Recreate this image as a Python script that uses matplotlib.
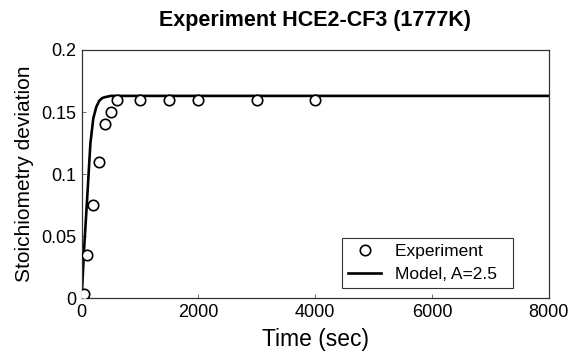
import numpy as np
import matplotlib.pyplot as plt
from matplotlib.ticker import FormatStrFormatter

plt.rcParams['font.family'] = ['Liberation Sans', 'DejaVu Sans']

# experiment points
exp_time = [40, 100, 200, 300, 400, 500, 600, 1000, 1500, 2000, 3000, 4000]
exp_dev = [0.003, 0.035, 0.075, 0.110, 0.140, 0.150, 0.160, 0.160, 0.160, 0.160, 0.160, 0.160]

# model curve, A=2.5
mod_time = [0, 40, 100, 150, 200, 250, 300, 350, 400, 500, 8000]
mod_dev = [0.0, 0.038, 0.085, 0.125, 0.145, 0.154, 0.159, 0.1612, 0.162, 0.163, 0.163]

xticks = [0, 2000, 4000, 6000, 8000]
yticks = [0, 0.05, 0.1, 0.15, 0.2]

fig = plt.figure(figsize=(5.71, 3.52), dpi=100)
ax = fig.add_axes([0.143, 0.153, 0.818, 0.705])

ax.plot(exp_time, exp_dev, 'o', mfc='white', mec='black', mew=1.2, ms=7.5,
        linestyle='None', label='Experiment  ', zorder=3)
ax.plot(mod_time, mod_dev, '-', color='black', lw=1.9, label='Model, A=2.5  ', zorder=2)

ax.set_xlim(0, 8000)
ax.set_ylim(0, 0.2)
ax.set_xticks(xticks)
ax.set_yticks(yticks)
ax.yaxis.set_major_formatter(FormatStrFormatter('%g'))
ax.tick_params(direction='in', length=3, width=0.6, color='#555555',
               labelsize=13, pad=4)

for sp in ax.spines.values():
    sp.set_linewidth(0.9)
    sp.set_color('#333333')

ax.set_xlabel('Time (sec)', fontsize=16.5, labelpad=5)
ax.set_ylabel('Stoichiometry deviation', fontsize=15, labelpad=5)
ax.set_title('Experiment HCE2-CF3 (1777K)', fontsize=15.5, fontweight='bold', pad=17)

leg = ax.legend(loc='lower right', bbox_to_anchor=(0.923, 0.04), borderaxespad=0,
                fontsize=12.5, frameon=True, fancybox=False, framealpha=1,
                edgecolor='#333333', handlelength=1.9, handletextpad=0.8,
                labelspacing=0.45, borderpad=0.35)
leg.get_frame().set_linewidth(0.8)

fig.savefig('out.png', dpi=100)
